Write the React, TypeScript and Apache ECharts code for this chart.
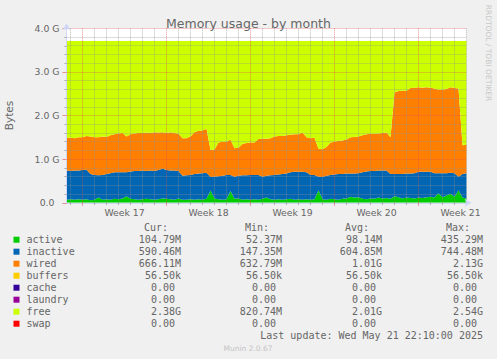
import React, { useEffect, useRef } from 'react';
import * as echarts from 'echarts';

// Values in G (1024^3 bytes), one sample per 8 hours, left to right
const activeG = [
  0.07, 0.08, 0.07, 0.08, 0.07, 0.08, 0.06, 0.07, 0.12, 0.07,
  0.08, 0.07, 0.09, 0.08, 0.10, 0.15, 0.09, 0.08, 0.07, 0.08,
  0.09, 0.08, 0.07, 0.08, 0.10, 0.09, 0.08, 0.07, 0.10, 0.07,
  0.07, 0.08, 0.07, 0.08, 0.07, 0.09, 0.28, 0.10, 0.08, 0.07,
  0.08, 0.27, 0.09, 0.10, 0.07, 0.08, 0.07, 0.08, 0.07, 0.09,
  0.12, 0.08, 0.07, 0.08, 0.07, 0.08, 0.09, 0.07, 0.08, 0.07,
  0.08, 0.07, 0.08, 0.29, 0.08, 0.07, 0.09, 0.08, 0.07, 0.09,
  0.10, 0.14, 0.12, 0.13, 0.09, 0.08, 0.10, 0.09, 0.12, 0.10,
  0.11, 0.09, 0.15, 0.13, 0.10, 0.12, 0.11, 0.10, 0.12, 0.11,
  0.13, 0.14, 0.12, 0.22, 0.13, 0.17, 0.21, 0.14, 0.29, 0.12,
  0.10,
];
const inactiveG = [
  0.67, 0.65, 0.67, 0.66, 0.68, 0.68, 0.60, 0.57, 0.51, 0.57,
  0.58, 0.61, 0.61, 0.62, 0.60, 0.55, 0.63, 0.65, 0.66, 0.66,
  0.64, 0.66, 0.66, 0.67, 0.68, 0.66, 0.66, 0.67, 0.63, 0.55,
  0.56, 0.56, 0.59, 0.59, 0.61, 0.60, 0.31, 0.50, 0.53, 0.55,
  0.56, 0.37, 0.51, 0.52, 0.56, 0.55, 0.57, 0.56, 0.57, 0.51,
  0.50, 0.55, 0.57, 0.57, 0.59, 0.59, 0.61, 0.64, 0.63, 0.64,
  0.62, 0.57, 0.56, 0.31, 0.51, 0.55, 0.55, 0.57, 0.59, 0.57,
  0.57, 0.53, 0.55, 0.55, 0.61, 0.64, 0.63, 0.64, 0.62, 0.64,
  0.63, 0.57, 0.51, 0.53, 0.56, 0.55, 0.56, 0.58, 0.59, 0.60,
  0.58, 0.57, 0.56, 0.46, 0.55, 0.51, 0.48, 0.54, 0.31, 0.54,
  0.58,
];
const wiredG = [
  0.75, 0.76, 0.74, 0.76, 0.75, 0.77, 0.86, 0.86, 0.87, 0.88,
  0.85, 0.87, 0.87, 0.89, 0.90, 0.82, 0.85, 0.86, 0.87, 0.86,
  0.88, 0.86, 0.89, 0.86, 0.84, 0.85, 0.88, 0.86, 0.85, 0.86,
  0.85, 0.88, 0.96, 0.98, 0.98, 1.01, 0.62, 0.62, 0.77, 0.78,
  0.76, 0.81, 0.65, 0.64, 0.72, 0.74, 0.74, 0.74, 0.82, 0.87,
  0.85, 0.85, 0.88, 0.88, 0.87, 0.88, 0.86, 0.86, 0.86, 0.90,
  0.80, 0.84, 0.85, 0.64, 0.64, 0.66, 0.74, 0.75, 0.76, 0.77,
  0.78, 0.83, 0.84, 0.84, 0.85, 0.85, 0.85, 0.85, 0.85, 0.86,
  0.87, 0.84, 1.87, 1.90, 1.91, 1.90, 1.96, 1.96, 1.94, 1.93,
  1.94, 1.93, 1.94, 1.91, 1.91, 1.93, 1.96, 1.95, 2.02, 0.66,
  0.65,
];
const freeG = [
  2.22, 2.22, 2.23, 2.21, 2.21, 2.18, 2.19, 2.21, 2.21, 2.19,
  2.20, 2.16, 2.14, 2.12, 2.11, 2.19, 2.14, 2.12, 2.11, 2.11,
  2.10, 2.11, 2.09, 2.10, 2.09, 2.11, 2.09, 2.11, 2.13, 2.23,
  2.23, 2.19, 2.09, 2.06, 2.05, 2.01, 2.50, 2.49, 2.33, 2.31,
  2.31, 2.26, 2.46, 2.45, 2.36, 2.34, 2.33, 2.33, 2.25, 2.24,
  2.24, 2.23, 2.19, 2.18, 2.18, 2.16, 2.15, 2.14, 2.14, 2.10,
  2.21, 2.23, 2.22, 2.47, 2.48, 2.43, 2.33, 2.31, 2.29, 2.28,
  2.26, 2.21, 2.20, 2.19, 2.16, 2.14, 2.13, 2.13, 2.12, 2.11,
  2.10, 2.21, 1.18, 1.15, 1.14, 1.14, 1.08, 1.07, 1.06, 1.07,
  1.06, 1.07, 1.09, 1.12, 1.12, 1.10, 1.06, 1.08, 1.09, 2.39,
  2.38,
];

// x categories: one per 8-hour sample
const sampleIndex = activeG.map((_, i) => String(i));
// finer 4-hour slots used for the week grid and labels
const slotCount = 201;
const slotIndex = Array.from({ length: slotCount }, (_, j) => String(j));
const weekStartSlots = [8, 50, 92, 134, 176];
const weekLabelSlots = [29, 71, 113, 155, 197];
const weekLabels = ['Week 17', 'Week 18', 'Week 19', 'Week 20', 'Week 21'];
const weekStartSamples = [4, 25, 46, 67, 88];

const legendNames = ['active', 'inactive', 'wired', 'buffers', 'cache', 'laundry', 'free', 'swap'];
const legendColors = ['#00CC00', '#0066B3', '#FF8000', '#FFCC00', '#330099', '#990099', '#CCFF00', '#FF0000'];
const curValues = ['104.79M', '590.46M', '666.11M', '56.50k', '0.00', '0.00', '2.38G', '0.00'];
const minValues = ['52.37M', '147.35M', '632.79M', '56.50k', '0.00', '0.00', '820.74M', '0.00'];
const avgValues = ['98.14M', '604.85M', '1.01G', '56.50k', '0.00', '0.00', '2.01G', '0.00'];
const maxValues = ['435.29M', '744.48M', '2.13G', '56.50k', '0.00', '0.00', '2.54G', '0.00'];
const columnHeaders = ['Cur:', 'Min:', 'Avg:', 'Max:'];
const lastUpdate = 'Last update: Wed May 21 22:10:00 2025';

const FONT = '#666666';
const MONO = '10px "DejaVu Sans Mono"';
const GRID_MINOR = 'rgba(143,143,143,0.6)';
const GRID_MAJOR = 'rgba(222,79,79,0.6)';
const AXIS = '#CFD6F8';

function buildGraphic() {
  const els: any[] = [];
  const colRight = [181, 282, 382, 483];
  const headerRight = [168, 269, 369, 470];
  const charW = 6.02;
  columnHeaders.forEach((h, c) => {
    els.push({
      type: 'text', x: headerRight[c], y: 227.7, silent: true,
      style: { text: h, font: MONO, fill: FONT, textAlign: 'right', textVerticalAlign: 'middle' },
    });
  });
  const cols = [curValues, minValues, avgValues, maxValues];
  legendNames.forEach((name, r) => {
    const cy = 239.7 + 12 * r;
    els.push({
      type: 'rect', silent: true,
      shape: { x: 13.5, y: cy - 3, width: 6, height: 6 },
      style: { fill: legendColors[r] },
    });
    els.push({
      type: 'text', x: 26.5, y: cy, silent: true,
      style: { text: name, font: MONO, fill: FONT, textAlign: 'left', textVerticalAlign: 'middle' },
    });
    cols.forEach((arr, c) => {
      const v = arr[r];
      const hasUnit = /[a-zA-Z]$/.test(v);
      els.push({
        type: 'text', x: colRight[c] - (hasUnit ? 0 : charW), y: cy, silent: true,
        style: { text: v, font: MONO, fill: FONT, textAlign: 'right', textVerticalAlign: 'middle' },
      });
    });
  });
  els.push({
    type: 'text', x: 483, y: 335.5, silent: true,
    style: { text: lastUpdate, font: MONO, fill: FONT, textAlign: 'right', textVerticalAlign: 'middle' },
  });
  els.push({
    type: 'text', x: 248, y: 348.3, silent: true,
    style: { text: 'Munin 2.0.67', font: '7.5px "DejaVu Sans"', fill: '#C4C4C4', textAlign: 'center', textVerticalAlign: 'middle' },
  });
  els.push({
    type: 'text', x: 488.5, y: 53, rotation: -Math.PI / 2, silent: true,
    style: { text: 'RRDTOOL / TOBI OETIKER', font: '7.5px "DejaVu Sans"', fill: '#C8C8C8', textAlign: 'center', textVerticalAlign: 'middle' },
  });
  return els;
}

const isDaySample = (i: number) => (i - 1) % 3 === 0 && weekStartSamples.indexOf(i) < 0;

export default function App() {
  const ref = useRef<HTMLDivElement>(null);
  useEffect(() => {
    if (!ref.current) return;
    const chart = echarts.init(ref.current, null, { renderer: 'svg' });
    const seriesDefs: [string, number[], string][] = [
      ['active', activeG, legendColors[0]],
      ['inactive', inactiveG, legendColors[1]],
      ['wired', wiredG, legendColors[2]],
      ['free', freeG, legendColors[6]],
    ];
    chart.setOption({
      animation: false,
      backgroundColor: '#F0F0F0',
      textStyle: { fontFamily: 'DejaVu Sans' },
      title: {
        text: 'Memory usage - by month', left: 'center', top: 12,
        textStyle: { fontSize: 12.5, fontWeight: 'normal', color: FONT, fontFamily: 'DejaVu Sans' },
      },
      grid: {
        left: 66.5, right: 30.5, top: 28.3, bottom: 156.2,
        show: true, backgroundColor: '#FFFFFF', borderWidth: 0,
        outerBoundsMode: 'none', containLabel: false,
      },
      xAxis: [
        {
          type: 'category', data: sampleIndex, boundaryGap: false, position: 'bottom', z: 3,
          axisLine: {
            show: true, onZero: false, lineStyle: { color: AXIS, width: 1 },
            symbol: ['none', 'arrow'], symbolSize: [6, 7], symbolOffset: [0, 5],
          },
          axisTick: { show: true, length: 2, interval: (i: number) => isDaySample(i), lineStyle: { color: 'rgba(143,143,143,0.75)' } },
          axisLabel: { show: false },
          splitLine: { show: true, interval: (i: number) => isDaySample(i), lineStyle: { color: GRID_MINOR, type: [1, 1], width: 1 } },
        },
        {
          type: 'category', data: slotIndex, boundaryGap: false, position: 'bottom', z: 4,
          axisLine: { show: false, onZero: false },
          axisTick: { show: true, length: 3, interval: (i: number) => weekStartSlots.indexOf(i) >= 0, lineStyle: { color: GRID_MAJOR } },
          axisLabel: {
            show: true, interval: (i: number) => weekLabelSlots.indexOf(i) >= 0,
            formatter: (_v: string, i: number) => {
              const k = weekLabelSlots.indexOf(i);
              return k >= 0 ? weekLabels[k] : '';
            },
            color: FONT, fontSize: 9.3, fontFamily: 'DejaVu Sans', margin: 5,
          },
          splitLine: { show: true, interval: (i: number) => weekStartSlots.indexOf(i) >= 0, lineStyle: { color: GRID_MAJOR, type: [1, 1], width: 1 } },
        },
      ],
      yAxis: {
        type: 'value', min: 0, max: 4, interval: 1, z: 3,
        name: 'Bytes', nameLocation: 'middle', nameGap: 52, nameRotate: 90,
        nameTextStyle: { color: FONT, fontSize: 10.5, fontFamily: 'DejaVu Sans' },
        axisLine: {
          show: true, lineStyle: { color: AXIS, width: 1 },
          symbol: ['none', 'arrow'], symbolSize: [6, 7], symbolOffset: [0, 5],
        },
        axisTick: { show: true, length: 4, lineStyle: { color: GRID_MAJOR } },
        minorTick: { show: true, splitNumber: 5, length: 2, lineStyle: { color: 'rgba(143,143,143,0.75)' } },
        axisLabel: {
          color: FONT, fontSize: 9.3, fontFamily: 'DejaVu Sans', margin: 7,
          formatter: (v: number) => (v === 0 ? '{z|0.0}' : v.toFixed(1) + ' G'),
          rich: { z: { color: FONT, fontSize: 9.3, fontFamily: 'DejaVu Sans', padding: [0, 5, 0, 0] } },
        },
        splitLine: { show: true, lineStyle: { color: GRID_MAJOR, type: [1, 1], width: 1 } },
        minorSplitLine: { show: true, lineStyle: { color: GRID_MINOR, type: [1, 1], width: 1 } },
      },
      series: seriesDefs.map(([name, data, color]) => ({
        type: 'line', name, data, xAxisIndex: 0, yAxisIndex: 0, stack: 'mem',
        symbol: 'none', showSymbol: false, silent: true,
        lineStyle: { width: 0 }, itemStyle: { color },
        areaStyle: { color, opacity: 1 }, z: 2,
      })),
      graphic: { elements: buildGraphic() },
    });
    return () => chart.dispose();
  }, []);
  return <div ref={ref} style={{ position: 'fixed', left: 0, top: 0, width: 497, height: 359 }} />;
}
